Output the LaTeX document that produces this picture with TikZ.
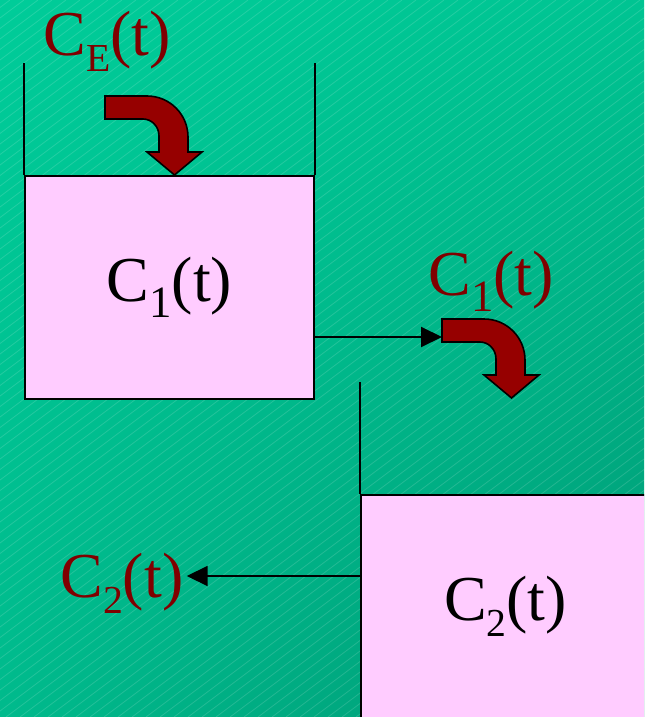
\documentclass[tikz,border=0pt]{standalone}
\usepackage{fontspec}
\setmainfont{Liberation Serif}
\newfontfamily\timesfont{Liberation Serif}
\usetikzlibrary{arrows.meta,calc,shadings}

\definecolor{bgul}{RGB}{0,204,153}
\definecolor{bgur}{RGB}{0,196,146}
\definecolor{bgll}{RGB}{0,186,140}
\definecolor{bglr}{RGB}{0,152,116}
\definecolor{tankpink}{RGB}{255,204,255}
\definecolor{flowred}{RGB}{128,0,0}
\definecolor{arrowred}{RGB}{150,0,0}

\tikzstyle{every node}=[font=\timesfont\fontsize{32pt}{38pt}\selectfont, inner sep=0pt]
\tikzstyle{tank}=[draw=black, line width=1pt, fill=tankpink, minimum width=144.5pt, minimum height=111.5pt]
\tikzstyle{wall}=[line width=1pt]
\tikzstyle{flowlabel}=[text=flowred, anchor=base west]
\tikzstyle{pipe}=[line width=1pt, -{Triangle[length=10.5pt,width=10pt]}]

% koncentrace C_x(t)
\newcommand{\conc}[2][0.62]{C\raisebox{-0.25em}{\scalebox{#1}{#2}}(t)}

% zahnutá šipka přítoku
\tikzset{flowarrow/.pic={
    \filldraw[fill=arrowred, draw=black, line width=0.8pt]
      (0,0) -- (42,0) arc[start angle=270, end angle=360, radius=41]
      -- (83,56) -- (97,56) -- (69.5,79) -- (42,56) -- (54,56)
      -- (54,40) arc[start angle=360, end angle=270, x radius=16, y radius=17]
      -- (0,23) -- cycle;
    \coordinate (-in) at (0,18);
}}

\begin{document}
\begin{tikzpicture}[x=0.5pt, y=-0.5pt]
    % Pozadí
    \useasboundingbox (0,0) rectangle (644,717);
    \clip (0,0) rectangle (644,717);
    \shade[upper left=bgul, upper right=bgur, lower left=bgll, lower right=bglr] (0,0) rectangle (644,717);
    \foreach \k in {-960,-946,...,650}
        \draw[white, opacity=0.14, line width=0.4pt] (\k,717) -- ++(956,-717);

    % Nádrže
    \node[tank] (tank1) at (169.5,287.5) {\conc[0.7]{1}};
    \node[tank] (tank2) at (505.5,606.5) {\conc{2}};
    \draw[wall] (tank1.north west) -- ++(0,-112);
    \draw[wall] (tank1.north east) -- ++(0,-112);
    \draw[wall] (tank2.north west) -- ++(0,-112);
    \draw[wall] (tank2.north east) -- ++(0,-112);

    % Popisky toků
    \node[flowlabel] (ce) at (43,56) {\conc{E}};
    \node[flowlabel] (c1out) at (428,295) {\conc[0.7]{1}};
    \node[flowlabel] (c2out) at (60,597) {\conc{2}};

    % Šipky
    \pic (fa1) at (105,96) {flowarrow};
    \pic (fa2) at (442,319) {flowarrow};
    \draw[pipe] (tank1.east |- fa2-in) -- (fa2-in);
    \coordinate (drain) at ($(tank2.west)+(0,-30.5)$);
    \draw[pipe] (drain) -- ($(drain -| c2out.east)+(3,0)$);
\end{tikzpicture}
\end{document}
